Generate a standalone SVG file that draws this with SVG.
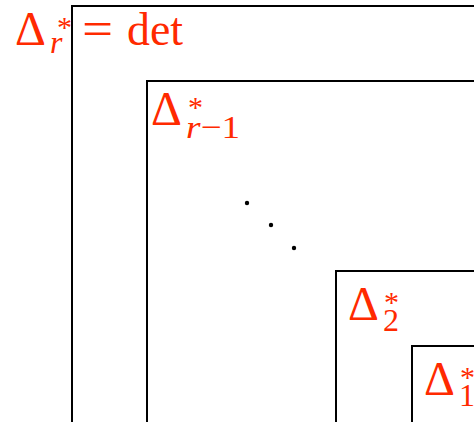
<svg xmlns="http://www.w3.org/2000/svg" width="474" height="422" viewBox="0 0 474 422">
<style>
.box{fill:none;stroke:#000;stroke-width:2}
.lbl{font-family:"Liberation Serif","DejaVu Serif",serif;fill:#ff2a00;font-size:48px}
.sup{font-size:30px}
.sub{font-size:32px}
.it{font-style:italic}
</style>
<rect width="474" height="422" fill="#fff"/>
<g id="delta-r">
<path class="box" d="M72,423 V6 H475"/>
<text class="lbl" x="15" y="45">Δ<tspan class="sup" x="57" y="37">*</tspan><tspan class="sub it" x="50" y="53">r</tspan><tspan x="82" y="45" textLength="31" lengthAdjust="spacingAndGlyphs">=</tspan><tspan x="127" y="45" font-size="46" textLength="56" lengthAdjust="spacingAndGlyphs">det</tspan></text>
</g>
<g id="delta-r-1">
<path class="box" d="M147,423 V81 H475"/>
<text class="lbl" x="151" y="125">Δ<tspan class="sup" x="188" y="117">*</tspan><tspan class="sub" x="186" y="138" textLength="54" lengthAdjust="spacingAndGlyphs"><tspan class="it">r</tspan>−1</tspan></text>
</g>
<g id="dots">
<circle cx="247" cy="203" r="2.2"/>
<circle cx="271" cy="225" r="2.2"/>
<circle cx="294" cy="248" r="2.2"/>
</g>
<g id="delta-2">
<path class="box" d="M336,423 V271 H475"/>
<text class="lbl" x="348" y="320">Δ<tspan class="sup" x="384" y="312">*</tspan><tspan class="sub" x="383" y="331">2</tspan></text>
</g>
<g id="delta-1">
<path class="box" d="M412,423 V346 H475"/>
<text class="lbl" x="424" y="395">Δ<tspan class="sup" x="460" y="387">*</tspan><tspan class="sub" x="459" y="406">1</tspan></text>
</g>
<g id="connectors"/>
</svg>
